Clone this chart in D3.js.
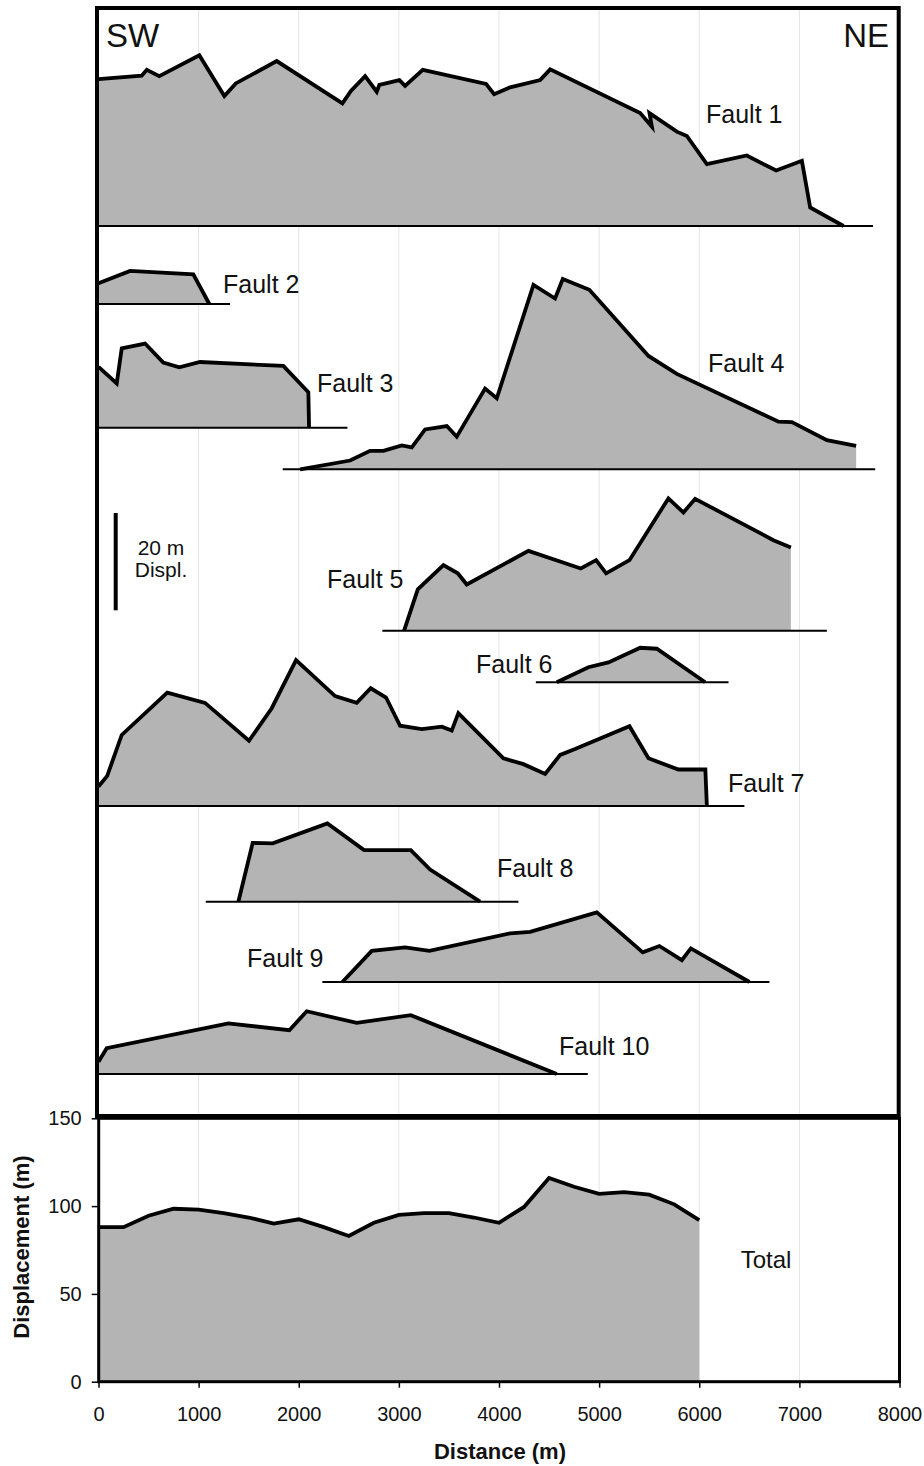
<!DOCTYPE html>
<html>
<head>
  <title>Fault displacement profiles</title>
  <style>
    body { margin: 0; background: #fff; }
    text { font-family: "Liberation Sans", Arial, sans-serif; fill: #111; }
    .label { font-size: 25px; }
    .tick text { font-size: 20px; }
    .axis-title { font-size: 22px; font-weight: bold; }
    .grid { stroke: #e4e4e4; stroke-width: 1; }
    .fill { fill: #b4b4b4; stroke: none; }
    .outline { fill: none; stroke: #000; stroke-width: 3.8; stroke-linejoin: miter; }
    .base { stroke: #000; stroke-width: 2; }
  </style>
</head>
<body>
  <svg id="chart"></svg>

  <script src="https://d3js.org/d3.v7.min.js"></script>
  <script>
    // Profiles: [distance along strike (m), displacement (m)]
    const fault1 = [[0, 30.2], [432, 30.9], [482, 32.1], [607, 30.8], [1007, 35.1], [1257, 26.7], [1371, 29.3],
      [1780, 33.9], [2436, 25.2], [2523, 27.8], [2663, 30.8], [2779, 27.6], [2805, 29.0], [3005, 30.0],
      [3062, 28.8], [3239, 32.1], [3871, 29.2], [3951, 27.1], [4111, 28.5], [4411, 30.0], [4511, 32.2],
      [5410, 23.2], [5527, 20.4], [5503, 23.2], [5776, 19.4], [5876, 18.5], [6076, 12.7], [6475, 14.5],
      [6768, 11.4], [7025, 13.4], [7108, 3.8], [7441, 0]];
    const fault2 = [[0, 4.25], [315, 6.8], [947, 6.1], [1107, 0]];
    const fault3 = [[0, 12.5], [182, 9.1], [232, 16.3], [465, 17.3], [647, 13.4], [807, 12.4], [1014, 13.5],
      [1846, 12.7], [2096, 7.3], [2103, 0]];
    const fault4 = [[2013, 0], [2513, 1.8], [2712, 3.8], [2845, 3.8], [3029, 4.9], [3129, 4.5], [3262, 8.2],
      [3479, 8.9], [3578, 6.7], [3861, 16.6], [3978, 14.6], [4344, 37.9], [4560, 35.1], [4637, 39.1],
      [4903, 36.9], [5493, 23.3], [5776, 19.6], [6791, 9.8], [6925, 9.7], [7275, 6.0], [7567, 4.8]];
    const fault5 = [[3052, 0], [3189, 8.5], [3445, 13.5], [3588, 11.8], [3678, 9.5], [4294, 16.4], [4817, 12.8],
      [4970, 14.5], [5070, 11.8], [5303, 14.5], [5692, 27.2], [5842, 24.3], [5959, 27.1], [6741, 18.6],
      [6915, 17.1]];
    const fault6 = [[4577, 0], [4893, 3.1], [5093, 4.1], [5410, 7.1], [5576, 6.9], [6059, 0]];
    const fault7 = [[0, 4.0], [87, 6.2], [232, 14.6], [687, 23.3], [1064, 21.2], [1503, 13.4], [1730, 20.1],
      [1973, 30.0], [2363, 22.6], [2579, 21.2], [2719, 24.2], [2872, 22.3], [3012, 16.5], [3229, 15.8],
      [3429, 16.3], [3528, 15.5], [3594, 19.1], [4044, 9.8], [4244, 8.6], [4461, 6.6], [4611, 10.5],
      [4760, 11.7], [5303, 16.4], [5493, 9.8], [5792, 7.5], [6061, 7.5], [6076, 0]];
    const fault8 = [[1397, 0], [1540, 12.1], [1740, 12.0], [2286, 16.1], [2652, 10.6], [3119, 10.6],
      [3312, 6.6], [3811, 0]];
    const fault9 = [[2436, 0], [2729, 6.4], [3062, 7.1], [3305, 6.4], [4111, 10.0], [4311, 10.3], [4977, 14.3],
      [5436, 6.1], [5602, 7.4], [5826, 4.5], [5916, 6.9], [6501, 0]];
    const fault10 = [[0, 2.5], [82, 5.3], [1297, 10.4], [1906, 9.0], [2080, 12.9], [2579, 10.5], [3119, 12.1],
      [4577, 0]];

    const faultNames = ["Fault 1", "Fault 2", "Fault 3", "Fault 4", "Fault 5",
      "Fault 6", "Fault 7", "Fault 8", "Fault 9", "Fault 10"];
    const faultProfiles = [fault1, fault2, fault3, fault4, fault5, fault6, fault7, fault8, fault9, fault10];
    // extent of each mapped trace (m)
    const traceStart = [0, 0, 0, 1840, 2835, 4368, 0, 1071, 2236, 0];
    const traceEnd = [7735, 1314, 2486, 7757, 7275, 6292, 6451, 4194, 6701, 4887];

    const totalDist = [0, 250, 500, 750, 1000, 1250, 1500, 1750, 2000, 2250, 2500, 2750, 3000,
      3250, 3500, 3750, 4000, 4250, 4500, 4750, 5000, 5250, 5500, 5750, 6000];
    const totalDisp = [88, 88, 94.5, 98.5, 98, 96, 93.5, 90, 92.5, 88, 83, 90.5, 95,
      96, 96, 93.5, 90.5, 99.5, 116, 111, 107, 108, 106.5, 101, 92];

    const xTicks = [0, 1000, 2000, 3000, 4000, 5000, 6000, 7000, 8000];
    const yTicks = [0, 50, 100, 150];

    // layout
    const width = 924, height = 1466;
    const topPanel = { x0: 97, x1: 898.7, y0: 8, y1: 1116 };
    const botPanel = { x0: 98.7, x1: 899.5, y0: 1118.3, y1: 1381.7 };
    const baseY = [226, 304, 427.7, 469.3, 630.7, 682.3, 806, 901.7, 982, 1074];
    const labelPos = [[706, 123], [223, 293], [317, 392], [708, 372], [327, 588],
      [476, 673], [728, 792], [497, 877], [247, 967], [559, 1055]];

    const svg = d3.select("#chart")
      .attr("width", width)
      .attr("height", height);

    const x = d3.scaleLinear().domain([0, 8000]).range([98.5, 899.5]);
    const yTotal = d3.scaleLinear().domain([0, 150]).range([botPanel.y1, botPanel.y0]);
    // vertical exaggeration of the stacked profiles: 20 m bar
    const disp = d3.scaleLinear().domain([0, 20]).range([0, 97.3]);

    // grid lines
    const gridVals = xTicks.slice(1, -1);
    [topPanel, botPanel].forEach(p => {
      svg.append("g").selectAll("line")
        .data(gridVals)
        .enter().append("line")
        .attr("class", "grid")
        .attr("x1", d => x(d)).attr("x2", d => x(d))
        .attr("y1", p.y0).attr("y2", p.y1);
    });

    // stacked fault profiles
    faultProfiles.forEach((pts, i) => {
      const g = svg.append("g").attr("transform", `translate(0,${baseY[i]})`);
      const area = d3.area()
        .x(d => x(d[0]))
        .y0(0)
        .y1(d => -disp(d[1]));
      const line = d3.line()
        .x(d => x(d[0]))
        .y(d => -disp(d[1]));

      g.append("path").attr("class", "fill").attr("d", area(pts));
      g.append("line").attr("class", "base")
        .attr("x1", x(traceStart[i])).attr("x2", x(traceEnd[i]))
        .attr("y1", 0).attr("y2", 0);
      g.append("path").attr("class", "outline").attr("d", line(pts));

      svg.append("text").attr("class", "label")
        .attr("x", labelPos[i][0]).attr("y", labelPos[i][1])
        .text(faultNames[i]);
    });

    // total displacement
    const totalData = totalDist.map((d, i) => [d, totalDisp[i]]);
    svg.append("path").attr("class", "fill")
      .attr("d", d3.area().x(d => x(d[0])).y0(yTotal(0)).y1(d => yTotal(d[1]))(totalData));
    svg.append("path").attr("class", "outline")
      .attr("d", d3.line().x(d => x(d[0])).y(d => yTotal(d[1]))(totalData));

    svg.append("text").attr("class", "label")
      .style("font-size", "24px")
      .attr("x", 766).attr("y", 1268)
      .attr("text-anchor", "middle")
      .text("Total");

    // frames
    svg.append("rect")
      .attr("x", topPanel.x0).attr("y", topPanel.y0)
      .attr("width", topPanel.x1 - topPanel.x0).attr("height", topPanel.y1 - topPanel.y0)
      .attr("fill", "none").attr("stroke", "#000").attr("stroke-width", 4);
    svg.append("rect")
      .attr("x", botPanel.x0).attr("y", botPanel.y0)
      .attr("width", botPanel.x1 - botPanel.x0).attr("height", botPanel.y1 - botPanel.y0)
      .attr("fill", "none").attr("stroke", "#000").attr("stroke-width", 3);

    // direction labels
    svg.append("text").style("font-size", "33px")
      .attr("x", 106).attr("y", 47).text("SW");
    svg.append("text").style("font-size", "33px")
      .attr("x", 889).attr("y", 47).attr("text-anchor", "end").text("NE");

    // scale bar
    svg.append("line")
      .attr("x1", 115.7).attr("x2", 115.7)
      .attr("y1", 513).attr("y2", 513 + disp(20))
      .attr("stroke", "#000").attr("stroke-width", 4);
    svg.append("text").style("font-size", "21px")
      .attr("x", 161).attr("y", 555).attr("text-anchor", "middle").text("20 m");
    svg.append("text").style("font-size", "21px")
      .attr("x", 161).attr("y", 577).attr("text-anchor", "middle").text("Displ.");

    // axes
    const xAxis = svg.append("g")
      .attr("transform", `translate(0,${botPanel.y1})`)
      .call(d3.axisBottom(x).tickValues(xTicks).tickSize(6).tickPadding(19).tickFormat(d3.format("d")));
    const yAxis = svg.append("g")
      .attr("transform", `translate(${botPanel.x0},0)`)
      .call(d3.axisLeft(yTotal).tickValues(yTicks).tickSize(7).tickPadding(10));
    [xAxis, yAxis].forEach(a => {
      a.select(".domain").remove();
      a.selectAll(".tick line").attr("stroke", "#000").attr("stroke-width", 1.5);
      a.selectAll(".tick text").attr("fill", "#222");
    });

    svg.append("text").attr("class", "axis-title")
      .attr("x", 500).attr("y", 1459).attr("text-anchor", "middle")
      .text("Distance (m)");
    svg.append("text").attr("class", "axis-title")
      .attr("transform", "translate(29,1247) rotate(-90)")
      .attr("text-anchor", "middle")
      .text("Displacement (m)");
  </script>
</body>
</html>
